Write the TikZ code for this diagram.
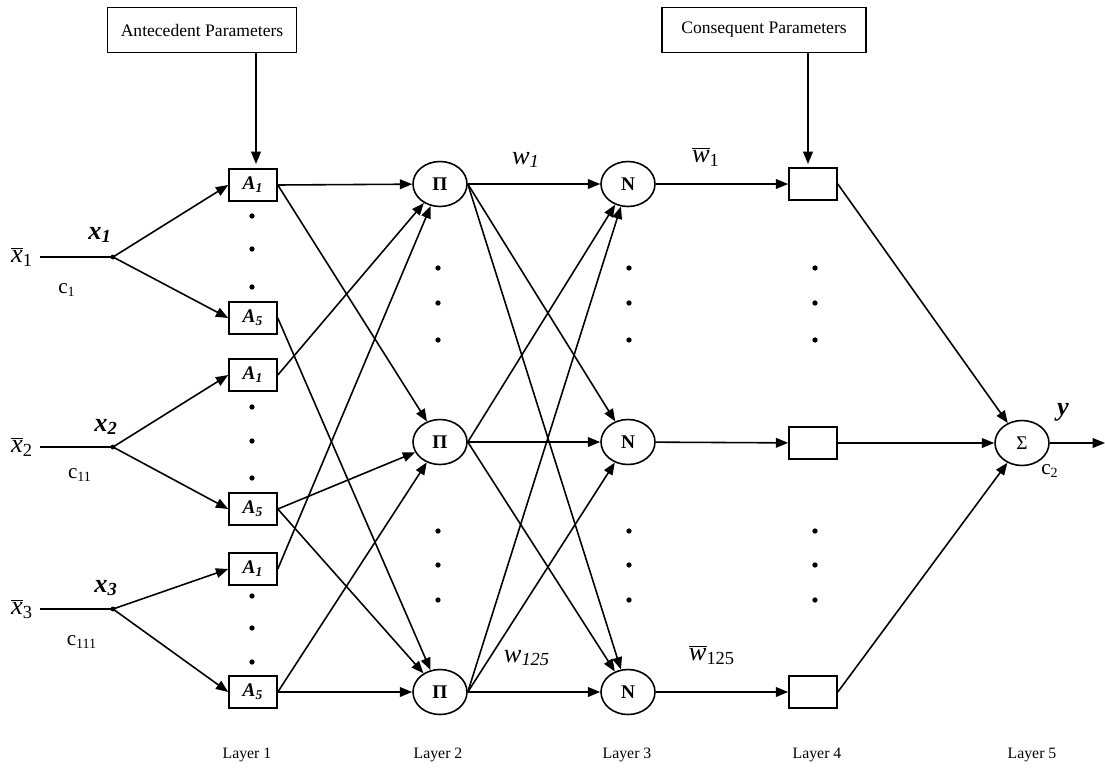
\documentclass[tikz,border=0pt]{standalone}
\usepackage{fontspec}
\setmainfont{Liberation Serif}
\usepackage{tikz}
\usetikzlibrary{
	arrows.meta,
	shapes.geometric,
	positioning
	}
\tikzset{font={\fontsize{10pt}{12}\selectfont}}
\newcommand{\ovl}[2]{$\overline{\mbox{\itshape #1}}$\textsubscript{#2}}

\begin{document}
\begin{tikzpicture}[x=0.02cm, y=-0.02cm, line width=0.9pt,
                >={Triangle[length=7pt,width=5.5pt]},
                abox/.style={draw, rectangle, minimum width=0.96cm, minimum height=0.64cm, inner sep=0pt,
                             font=\fontsize{11pt}{13}\selectfont\bfseries\itshape},
                rnode/.style={draw, ellipse, minimum width=1.08cm, minimum height=0.9cm, inner sep=0pt,
                              font=\fontsize{11pt}{13}\selectfont\bfseries},
                pbox/.style={draw, rectangle, minimum height=0.9cm, font=\fontsize{10pt}{12}\selectfont},
                big/.style={font=\fontsize{15pt}{17}\selectfont},
                mid/.style={font=\fontsize{12pt}{14}\selectfont},
                small/.style={font=\fontsize{9pt}{11}\selectfont}]
                \useasboundingbox (0,0) rectangle (1105,778);
                % parameter boxes
                \node (ante) [pbox, minimum width=3.78cm] at (202,30) {Antecedent Parameters};
                \node (cons) [pbox, minimum width=4.08cm] at (764,30) {Consequent Parameters};
                \coordinate (antein) at (256,164);
                \coordinate (consin) at (808,164);
                % inputs
                \node (in1) [big] at (22,257) {\ovl{x}{1}};
                \node (in2) [big] at (22,447) {\ovl{x}{2}};
                \node (in3) [big] at (22,609) {\ovl{x}{3}};
                \coordinate (j1) at (113,257);
                \coordinate (j2) at (113,447);
                \coordinate (j3) at (113,609);
                \node (lx1) [big] at (100,235) {\textbf{\textit{x\textsubscript{1}}}};
                \node (lx2) [big] at (106,427) {\textbf{\textit{x\textsubscript{2}}}};
                \node (lx3) [big] at (106,588) {\textbf{\textit{x\textsubscript{3}}}};
                \node (lc1) [mid] at (67,290) {c\textsubscript{1}};
                \node (lc2) [mid] at (80,475) {c\textsubscript{11}};
                \node (lc3) [mid] at (82,642) {c\textsubscript{111}};
                % layer 1
                \node (a11) [abox] at (253,185) {A\textsubscript{1}};
                \node (a15) [abox] at (253,318) {A\textsubscript{5}};
                \node (a21) [abox] at (253,375) {A\textsubscript{1}};
                \node (a25) [abox] at (253,509) {A\textsubscript{5}};
                \node (a31) [abox] at (253,569) {A\textsubscript{1}};
                \node (a35) [abox] at (253,692) {A\textsubscript{5}};
                % layer 2 and 3
                \node (p1) [rnode] at (440,184) {Π};
                \node (p2) [rnode] at (440,442) {Π};
                \node (p3) [rnode] at (440,692) {Π};
                \node (n1) [rnode] at (628,184) {N};
                \node (n2) [rnode] at (628,442) {N};
                \node (n3) [rnode] at (628,692) {N};
                % layer 4 and 5
                \node (r1) [abox] at (813,184) {};
                \node (r2) [abox] at (813,443) {};
                \node (r3) [abox] at (813,692) {};
                \node (s) [rnode, font=\fontsize{11pt}{13}\selectfont] at (1022,443) {Σ};
                \coordinate (out) at (1105,443);
                % labels
                \node (lw1) [big] at (526,160) {\textit{w\textsubscript{1}}};
                \node (lw125) [big] at (527,658) {\textit{w\textsubscript{125}}};
                \node (lwb1) [big] at (706,157) {\ovl{w}{1}};
                \node (lwb125) [big] at (712,655) {\ovl{w}{125}};
                \node (ly) [big] at (1063,412) {\textbf{\textit{y}}};
                \node (lc4) [mid] at (1050,471) {c\textsubscript{2}};
                \node (l1) [small] at (247,755) {Layer 1};
                \node (l2) [small] at (438,755) {Layer 2};
                \node (l3) [small] at (627,755) {Layer 3};
                \node (l4) [small] at (817,755) {Layer 4};
                \node (l5) [small] at (1032,755) {Layer 5};
                % dots
                \fill (252,216) circle (1.5pt) (252,249) circle (1.5pt) (252,287) circle (1.5pt)
                      (252,407) circle (1.5pt) (252,441) circle (1.5pt) (252,478) circle (1.5pt)
                      (252,596) circle (1.5pt) (252,628) circle (1.5pt) (252,662) circle (1.5pt);
                \fill (438,268) circle (1.5pt) (438,303) circle (1.5pt) (438,340) circle (1.5pt)
                      (438,531) circle (1.5pt) (438,565) circle (1.5pt) (438,600) circle (1.5pt);
                \fill (629,268) circle (1.5pt) (629,303) circle (1.5pt) (629,340) circle (1.5pt)
                      (629,531) circle (1.5pt) (629,565) circle (1.5pt) (629,600) circle (1.5pt);
                \fill (815,268) circle (1.5pt) (815,303) circle (1.5pt) (815,340) circle (1.5pt)
                      (815,531) circle (1.5pt) (815,565) circle (1.5pt) (815,600) circle (1.5pt);
                \fill (j1) circle (1.4pt) (j2) circle (1.4pt) (j3) circle (1.4pt);
                % connectors
                \draw[->] (ante.south -| antein) -- (antein);
                \draw[->] (cons.south -| consin) -- (consin);
                \draw (in1) -- (j1);
                \draw (in2) -- (j2);
                \draw (in3) -- (j3);
                \draw[->] (j1) -- (a11.west);
                \draw[->] (j1) -- (a15.west);
                \draw[->] (j2) -- (a21.west);
                \draw[->] (j2) -- (a25.west);
                \draw[->] (j3) -- (a31.west);
                \draw[->] (j3) -- (a35.west);
                \draw[->] (a11.east) -- (p1);
                \draw[->] (a11.east) -- (p2);
                \draw[->] (a15.east) -- (p3);
                \draw[->] (a21.east) -- (p1);
                \draw[->] (a25.east) -- (p2);
                \draw[->] (a25.east) -- (p3);
                \draw[->] (a31.east) -- (p1);
                \draw[->] (a35.east) -- (p2);
                \draw[->] (a35.east) -- (p3);
                \draw[->] (p1.east) -- (n1);
                \draw[->] (p1.east) -- (n2);
                \draw[->] (p1.east) -- (n3);
                \draw[->] (p2.east) -- (n1);
                \draw[->] (p2.east) -- (n2);
                \draw[->] (p2.east) -- (n3);
                \draw[->] (p3.east) -- (n1);
                \draw[->] (p3.east) -- (n2);
                \draw[->] (p3.east) -- (n3);
                \draw[->] (n1) -- (r1);
                \draw[->] (n2) -- (r2);
                \draw[->] (n3) -- (r3);
                \draw[->] (r1.east) -- (s);
                \draw[->] (r2) -- (s);
                \draw[->] (r3.east) -- (s);
                \draw[->] (s) -- (out);
            \end{tikzpicture}
\end{document}
